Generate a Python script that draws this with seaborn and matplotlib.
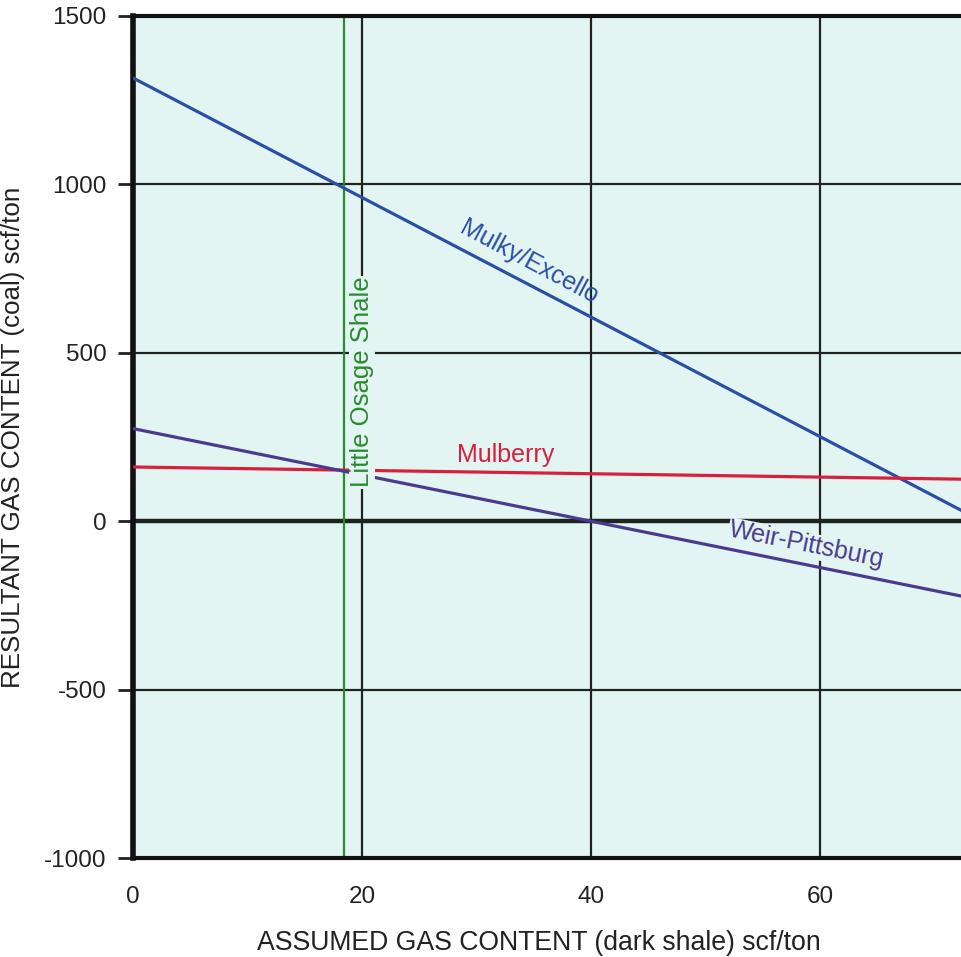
import matplotlib
matplotlib.use("Agg")
import matplotlib.pyplot as plt
import seaborn as sns
import pandas as pd
import numpy as np

# ---- data ----
x_ends = [0, 80]
mulky_excello = [1316, -104]
mulberry = [161, 121]
weir_pittsburg = [275, -275]
little_osage_x = 18.4

series_names = ["Mulky/Excello", "Mulberry", "Weir-Pittsburg"]
series_values = [mulky_excello, mulberry, weir_pittsburg]
series_colors = ["#2b4fa6", "#d8203c", "#4b3a8e"]

x_ticks = [0, 20, 40, 60]
y_ticks = [-1000, -500, 0, 500, 1000, 1500]

BG = "#e3f5f3"
GRID = "#1e2420"

rows = []
for name, vals in zip(series_names, series_values):
    for xv, yv in zip(x_ends, vals):
        rows.append({"x": xv, "y": yv, "series": name})
df = pd.DataFrame(rows)

sns.set_theme(style="white")
plt.rcParams["font.family"] = ["Liberation Sans", "DejaVu Sans"]

fig = plt.figure(figsize=(9.61, 9.57), dpi=100)
ax = fig.add_axes([0.1384, 0.1034, 0.8616, 0.8799])
ax.set_facecolor(BG)

ax.set_xlim(0, 72.3)
ax.set_ylim(-1000, 1500)

# grid
for xv in x_ticks[1:]:
    ax.axvline(xv, color=GRID, lw=1.6, zorder=1)
for yv in y_ticks:
    if yv == 0:
        ax.axhline(yv, color=GRID, lw=3.2, zorder=1)
    else:
        ax.axhline(yv, color=GRID, lw=1.6, zorder=1)

ax.axvline(little_osage_x, color="#2a8a2e", lw=1.6, zorder=2)

sns.lineplot(data=df, x="x", y="y", hue="series", palette=dict(zip(series_names, series_colors)),
             lw=2.3, ax=ax, legend=False, zorder=3)

# labels
ax.text(34.6, 770, "Mulky/Excello", color=series_colors[0], fontsize=18,
        rotation=-28, ha="center", va="center", zorder=5)
ax.text(32.5, 196, "Mulberry", color=series_colors[1], fontsize=18,
        ha="center", va="center", zorder=5)
ax.text(58.8, -71, "Weir-Pittsburg", color=series_colors[2], fontsize=18,
        rotation=-11.3, ha="center", va="center", zorder=5,
        bbox=dict(facecolor=BG, edgecolor="none", pad=0.5))
ax.text(20.0, 413, "Little Osage Shale", color="#2a8a2e", fontsize=18.5,
        rotation=90, ha="center", va="center", zorder=5,
        bbox=dict(facecolor=BG, edgecolor="none", pad=1.0))

ax.set_xticks(x_ticks)
ax.set_yticks(y_ticks)
ax.set_xticklabels([str(v) for v in x_ticks])
ax.set_yticklabels([str(v) for v in y_ticks])
ax.tick_params(axis="x", length=0, pad=20, labelsize=17.5, colors="#222222")
ax.tick_params(axis="y", length=11, width=2, pad=8, labelsize=17.5, colors="#222222",
               direction="out", left=True)

for side in ["left", "bottom", "top"]:
    ax.spines[side].set_visible(True)
    ax.spines[side].set_color("#111111")
ax.spines["left"].set_linewidth(4)
ax.spines["bottom"].set_linewidth(3)
ax.spines["top"].set_linewidth(3)
ax.spines["right"].set_visible(False)

ax.set_xlabel("ASSUMED GAS CONTENT (dark shale) scf/ton", fontsize=19.2, color="#222222", labelpad=17)
ax.xaxis.set_label_coords(0.49, -0.085)
ax.set_ylabel("RESULTANT GAS CONTENT (coal) scf/ton", fontsize=18.7, color="#222222", labelpad=14)

fig.savefig("out.png", dpi=100, facecolor="white")
